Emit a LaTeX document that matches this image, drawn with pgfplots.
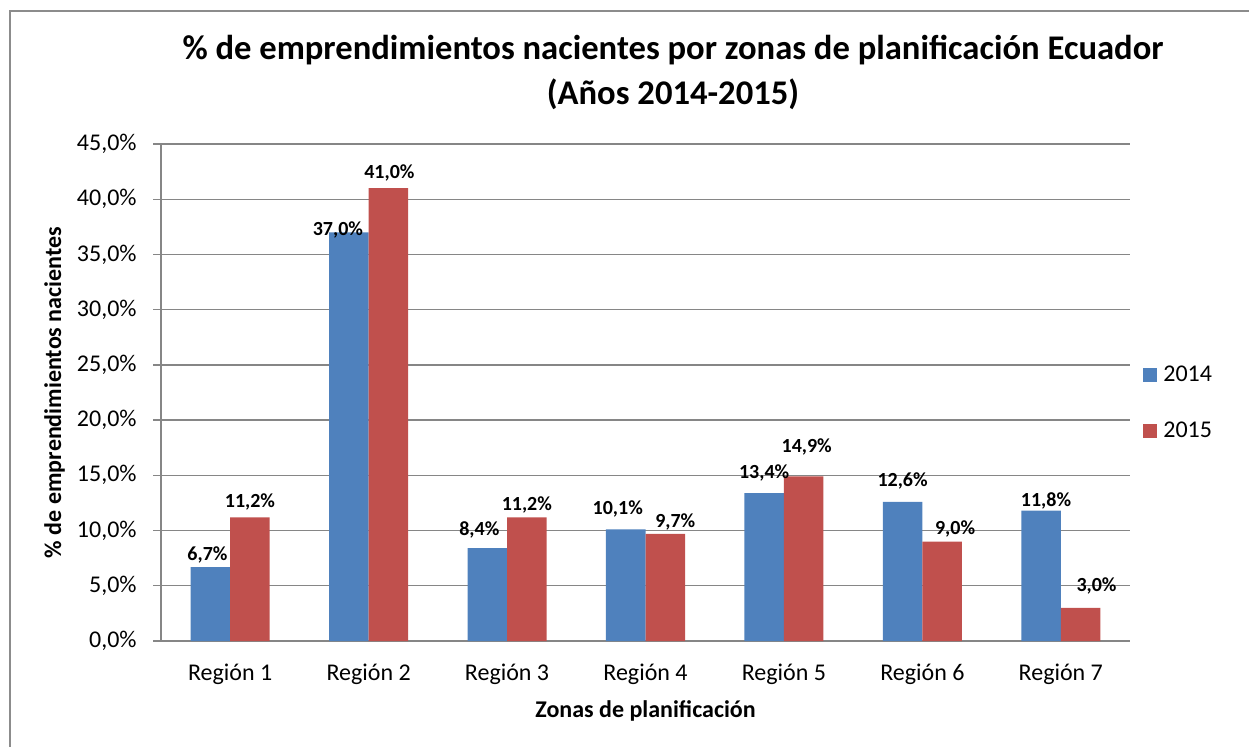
\documentclass[border=0pt]{standalone}
\usepackage{pgfplots}
\pgfplotsset{compat=1.18}
\usepackage{pgfplotstable}
\usepackage{fontspec}
\setmainfont{Carlito}
\definecolor{blue14}{HTML}{4F81BD}
\definecolor{red15}{HTML}{C0504D}
\definecolor{gridgray}{HTML}{868686}
\definecolor{framegray}{HTML}{8C8C8C}

% x = category index, y = value (%), lx/ly = label offsets (px)
\pgfplotstableread{
x y lx ly
0 6.7 -3 6.7
1 37.0 -11 -3
2 8.4 -8 12.7
3 10.1 -8 15
4 13.4 0 15
5 12.6 0 15
6 11.8 5 4
}\dataA
\pgfplotstableread{
x y lx ly
0 11.2 0 10
1 41.0 1 10
2 11.2 0 7
3 9.7 10 6
4 14.9 3 24
5 9.0 13 7
6 3.0 16 16
}\dataB

\pgfplotsset{sqlegend/.style={legend image code/.code={\fill[##1,draw=none] (0pt,-3.5pt) rectangle (7pt,3.5pt);}}}

\begin{document}
\begin{tikzpicture}
\useasboundingbox (0,0) rectangle (624.5pt,373pt);
\draw[framegray, line width=0.7pt] (5pt,-5pt) -- (5pt,367.5pt) -- (630pt,367.5pt);
\node[anchor=base, font=\bfseries\fontsize{17.3}{20}\selectfont] at (336.5pt,343pt) {\% de emprendimientos nacientes por zonas de planificación Ecuador};
\node[anchor=base, font=\bfseries\fontsize{17.3}{20}\selectfont] at (336.5pt,320.5pt) {(Años 2014-2015)};
\begin{axis}[
  at={(80.5pt,52.5pt)}, anchor=south west, scale only axis,
  width=484.5pt, height=248.5pt,
  ybar, bar width=0.2854,
  xmin=-0.5, xmax=6.5, ymin=0, ymax=45,
  xtick={0,1,2,3,4,5,6},
  xticklabels={Región 1,Región 2,Región 3,Región 4,Región 5,Región 6,Región 7},
  ytick={0,5,10,15,20,25,30,35,40,45},
  yticklabels={{0,0\%},{5,0\%},{10,0\%},{15,0\%},{20,0\%},{25,0\%},{30,0\%},{35,0\%},{40,0\%},{45,0\%}},
  axis lines*=left,
  axis line style={draw=gridgray, line width=0.7pt, -},
  ymajorgrids, grid style={draw=gridgray, line width=0.7pt},
  tick align=outside, major tick length=4pt,
  ytick style={draw=gridgray, line width=0.7pt},
  xtick style={draw=none},
  tick label style={font=\fontsize{12}{14}\selectfont},
  yticklabel style={anchor=east, inner sep=0pt, xshift=-8pt},
  xticklabel style={anchor=base, inner sep=0pt, yshift=-15.5pt},
  xlabel={Zonas de planificación},
  ylabel={\% de emprendimientos nacientes},
  xlabel style={at={(axis description cs:0.5,-0.153)}, anchor=base, font=\bfseries\fontsize{12}{14}\selectfont},
  ylabel style={at={(axis description cs:-0.1032,0.5)}, anchor=base, font=\bfseries\fontsize{12}{14}\selectfont},
  clip=false,
  /pgf/number format/assume math mode=true,
  visualization depends on={\thisrow{lx} \as \lblx},
  visualization depends on={\thisrow{ly} \as \lbly},
  nodes near coords={\pgfmathprintnumber[fixed,fixed zerofill,precision=1,use comma,assume math mode=true]{\pgfplotspointmeta}\%},
  nodes near coords style={font=\bfseries\fontsize{10}{12}\selectfont, anchor=base, inner sep=0pt, xshift={\lblx*0.5pt}, yshift={\lbly*0.5pt}, text=black},
  legend style={at={(axis description cs:1.0134,0.4789)}, anchor=west, draw=none, fill=none, inner sep=0pt, row sep=18.5pt, column sep=3pt, font=\fontsize{12}{14}\selectfont, nodes={inner sep=0pt}},
  legend cell align=left,
]
\addplot[fill=blue14, draw=none, bar shift=-0.1427, sqlegend] table[x=x, y=y] {\dataA};
\addlegendentry{2014}
\addplot[fill=red15, draw=none, bar shift=0.1427, sqlegend] table[x=x, y=y] {\dataB};
\addlegendentry{2015}
\end{axis}
\end{tikzpicture}
\end{document}
